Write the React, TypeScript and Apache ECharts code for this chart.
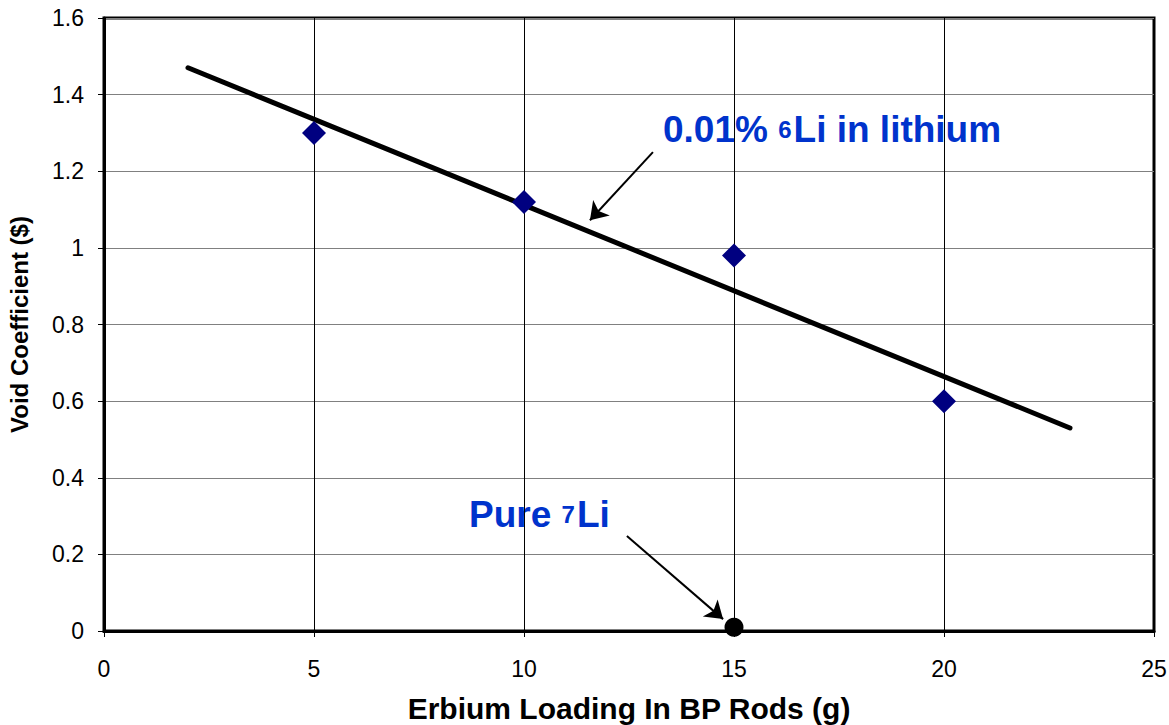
import React, { useEffect, useRef } from "react";
import * as echarts from "echarts";

const xTicks = [0, 5, 10, 15, 20, 25];
const yTicks = [0, 0.2, 0.4, 0.6, 0.8, 1, 1.2, 1.4, 1.6];
const erbiumLoading = [5, 10, 15, 20];
const voidCoef = [1.3, 1.12, 0.98, 0.6];
const trendX = [2, 23];
const trendY = [1.47, 0.53];
const pureLi = [[15, 0.01]];
const arrows = [
  [[13.07, 1.25], [11.57, 1.072]],
  [[12.45, 0.248], [14.74, 0.031]],
];

const FONT = "Arial, 'Liberation Sans', sans-serif";

export default function App() {
  const ref = useRef<HTMLDivElement>(null);
  useEffect(() => {
    const chart = echarts.init(ref.current!, null, { renderer: "svg" });
    const rich = {
      b: { fontFamily: FONT, fontSize: 37, fontWeight: "bold", fill: "#0033CC", height: 44, verticalAlign: "bottom" },
      s: { fontFamily: FONT, fontSize: 24, fontWeight: "bold", fill: "#0033CC", height: 44, verticalAlign: "top", padding: [3, 2, 0, 0] },
    };
    chart.setOption({
      animation: false,
      backgroundColor: "#fff",
      grid: {
        left: 104,
        right: 15,
        top: 18,
        bottom: 94,
        show: true,
        borderColor: "#000",
        borderWidth: 3,
        outerBoundsMode: "none",
        containLabel: false,
      },
      xAxis: {
        type: "value",
        min: 0,
        max: 25,
        interval: 5,
        name: "Erbium Loading In BP Rods (g)",
        nameLocation: "middle",
        nameGap: 62,
        nameTextStyle: { fontFamily: FONT, fontSize: 30, fontWeight: "bold", color: "#000" },
        axisLine: { show: true, lineStyle: { color: "#000", width: 3 } },
        axisTick: { show: true, length: 6, lineStyle: { color: "#000", width: 1 } },
        axisLabel: { fontFamily: FONT, fontSize: 23, color: "#000", margin: 26 },
        splitLine: { show: true, lineStyle: { color: "#000", width: 1 } },
      },
      yAxis: {
        type: "value",
        min: 0,
        max: 1.6,
        interval: 0.2,
        name: "Void Coefficient ($)",
        nameLocation: "middle",
        nameGap: 73,
        nameTextStyle: { fontFamily: FONT, fontSize: 24, fontWeight: "bold", color: "#000" },
        axisLine: { show: true, lineStyle: { color: "#000", width: 3 } },
        axisTick: { show: true, length: 6, lineStyle: { color: "#000", width: 1 } },
        axisLabel: {
          fontFamily: FONT,
          fontSize: 23,
          color: "#000",
          margin: 20,
          formatter: (v: number) => String(Math.round(v * 10) / 10),
        },
        splitLine: { show: true, lineStyle: { color: "#808080", width: 1 } },
      },
      series: [
        {
          type: "line",
          data: trendX.map((x, i) => [x, trendY[i]]),
          symbol: "none",
          lineStyle: { color: "#000", width: 5, cap: "round" },
          z: 3,
        },
        {
          type: "scatter",
          data: erbiumLoading.map((x, i) => [x, voidCoef[i]]),
          symbol: "diamond",
          symbolSize: 24,
          itemStyle: { color: "#000080", opacity: 1 },
          z: 4,
        },
        {
          type: "scatter",
          data: pureLi,
          symbol: "circle",
          symbolSize: 19,
          itemStyle: { color: "#000", opacity: 1 },
          z: 5,
        },
        {
          type: "lines",
          coordinateSystem: "cartesian2d",
          data: arrows.map((c) => ({ coords: c })),
          symbol: ["none", "arrow"],
          symbolSize: 17,
          lineStyle: { color: "#000", width: 2, opacity: 1 },
          z: 6,
        },
      ],
      graphic: [
        {
          type: "text",
          left: 663,
          top: 111,
          style: { text: "{b|0.01% }{s|6}{b|Li in lithium}", rich },
        },
        {
          type: "text",
          left: 469,
          top: 496,
          style: { text: "{b|Pure }{s|7}{b|Li}", rich },
        },
      ],
    });
    return () => chart.dispose();
  }, []);
  return <div ref={ref} style={{ width: 1169, height: 725, position: "absolute", left: 0, top: 0 }} />;
}
